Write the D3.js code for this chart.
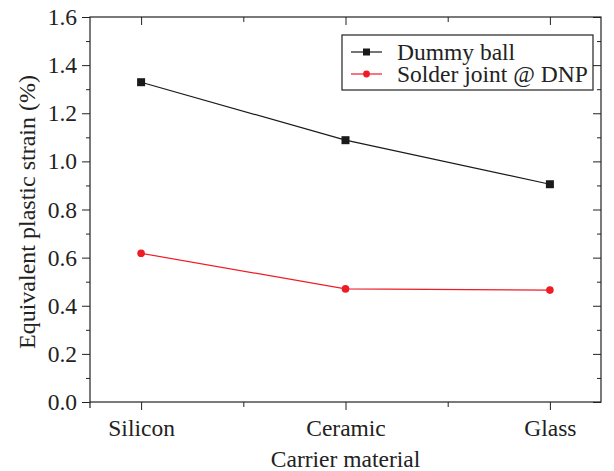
<!DOCTYPE html>
<html>
<head>
<meta charset="utf-8">
<script src="https://cdn.jsdelivr.net/npm/d3@7"></script>
<style>
  html, body { margin: 0; padding: 0; background: #fff; }
  svg { display: block; }
</style>
</head>
<body>
<svg id="chart" width="614" height="471"></svg>
<script>
// Carrier materials along the x axis
const categories = ["Silicon", "Ceramic", "Glass"];
// Equivalent plastic strain (%) for each series
const dummyBall = [1.329, 1.088, 0.905];
const solderJoint = [0.618, 0.470, 0.465];
const seriesNames = ["Dummy ball", "Solder joint @ DNP"];
const yTicks = [0.0, 0.2, 0.4, 0.6, 0.8, 1.0, 1.2, 1.4, 1.6];
const yMinorTicks = [0.1, 0.3, 0.5, 0.7, 0.9, 1.1, 1.3, 1.5];

const FONT = "'Liberation Serif', serif";
const FS = 23.5;
const svg = d3.select("#chart");
const m = { left: 90, right: 601, top: 17, bottom: 402 };
const ink = "#222";

const x = d3.scaleLinear().domain([-0.25, categories.length - 0.75]).range([m.left, m.right]);
const y = d3.scaleLinear().domain([0, 1.6]).range([m.bottom, m.top]);

const g = svg.append("g");

// Bottom axis: major ticks at categories, minor ticks between
g.append("g").attr("transform", `translate(0,${m.bottom})`)
  .call(d3.axisBottom(x).tickValues(d3.range(categories.length))
    .tickFormat(i => categories[i]).tickSizeInner(8).tickSizeOuter(0).tickPadding(9));
g.append("g").attr("transform", `translate(0,${m.bottom})`)
  .call(d3.axisBottom(x).tickValues([0.5, 1.5]).tickSizeInner(5).tickSizeOuter(0).tickFormat(""));

// Top axis: inward ticks
g.append("g").attr("transform", `translate(0,${m.top})`)
  .call(d3.axisBottom(x).tickValues(d3.range(categories.length)).tickSizeInner(8).tickSizeOuter(0).tickFormat(""));
g.append("g").attr("transform", `translate(0,${m.top})`)
  .call(d3.axisBottom(x).tickValues([0.5, 1.5]).tickSizeInner(5).tickSizeOuter(0).tickFormat(""));

// Left axis
g.append("g").attr("transform", `translate(${m.left},0)`)
  .call(d3.axisLeft(y).tickValues(yTicks).tickFormat(d3.format(".1f"))
    .tickSizeInner(8).tickSizeOuter(0).tickPadding(5));
g.append("g").attr("transform", `translate(${m.left},0)`)
  .call(d3.axisLeft(y).tickValues(yMinorTicks).tickSizeInner(4).tickSizeOuter(0).tickFormat(""));

// Right axis: inward ticks
g.append("g").attr("transform", `translate(${m.right},0)`)
  .call(d3.axisLeft(y).tickValues(yTicks).tickSizeInner(8).tickSizeOuter(0).tickFormat(""));
g.append("g").attr("transform", `translate(${m.right},0)`)
  .call(d3.axisLeft(y).tickValues(yMinorTicks).tickSizeInner(4).tickSizeOuter(0).tickFormat(""));

g.selectAll(".domain").remove();
g.selectAll("g").attr("font-family", null);
g.selectAll(".tick line").attr("stroke", ink).attr("stroke-width", 1);
g.selectAll(".tick text").attr("font-size", FS).attr("fill", ink).style("font-family", FONT);

// Frame
g.append("rect").attr("x", m.left).attr("y", m.top)
  .attr("width", m.right - m.left).attr("height", m.bottom - m.top)
  .attr("fill", "none").attr("stroke", ink).attr("stroke-width", 1.2);
// Short extension of the left axis below the frame
g.append("line").attr("x1", m.left).attr("x2", m.left).attr("y1", m.bottom).attr("y2", m.bottom + 6)
  .attr("stroke", ink).attr("stroke-width", 1.2);

// Axis titles
svg.append("text").attr("x", (m.left + m.right) / 2).attr("y", 467)
  .attr("text-anchor", "middle").attr("font-size", FS).style("font-family", FONT).attr("fill", ink)
  .text("Carrier material");
svg.append("text").attr("transform", `translate(35,212) rotate(-90)`)
  .attr("text-anchor", "middle").attr("font-size", 24).style("font-family", FONT).attr("fill", ink)
  .text("Equivalent plastic strain (%)");

// Series
const line = d3.line().x((d, i) => x(i)).y(d => y(d));
const black = "#1a1a1a", red = "#ee1c25";

svg.append("path").datum(dummyBall).attr("d", line)
  .attr("fill", "none").attr("stroke", black).attr("stroke-width", 1.2);
svg.selectAll(".sq").data(dummyBall).enter().append("rect")
  .attr("x", (d, i) => x(i) - 4).attr("y", d => y(d) - 4)
  .attr("width", 8).attr("height", 8).attr("fill", black);

svg.append("path").datum(solderJoint).attr("d", line)
  .attr("fill", "none").attr("stroke", red).attr("stroke-width", 1.2);
svg.selectAll(".ci").data(solderJoint).enter().append("circle")
  .attr("cx", (d, i) => x(i)).attr("cy", d => y(d)).attr("r", 3.8).attr("fill", red);

// Legend
const lg = svg.append("g");
lg.append("rect").attr("x", 342).attr("y", 35).attr("width", 251).attr("height", 55)
  .attr("fill", "#fff").attr("stroke", ink).attr("stroke-width", 1.2);
const items = [{ name: seriesNames[0], color: black, shape: "sq" }, { name: seriesNames[1], color: red, shape: "ci" }];
items.forEach((it, k) => {
  const cy = 52 + k * 22;
  lg.append("line").attr("x1", 351).attr("x2", 382).attr("y1", cy).attr("y2", cy)
    .attr("stroke", it.color).attr("stroke-width", 1.2);
  if (it.shape === "sq") {
    lg.append("rect").attr("x", 366.5 - 3.5).attr("y", cy - 3.5).attr("width", 7).attr("height", 7).attr("fill", it.color);
  } else {
    lg.append("circle").attr("cx", 366.5).attr("cy", cy).attr("r", 3.4).attr("fill", it.color);
  }
  lg.append("text").attr("x", 397).attr("y", cy + 7.5).attr("font-size", FS).style("font-family", FONT)
    .attr("fill", ink).text(it.name);
});
</script>
</body>
</html>
